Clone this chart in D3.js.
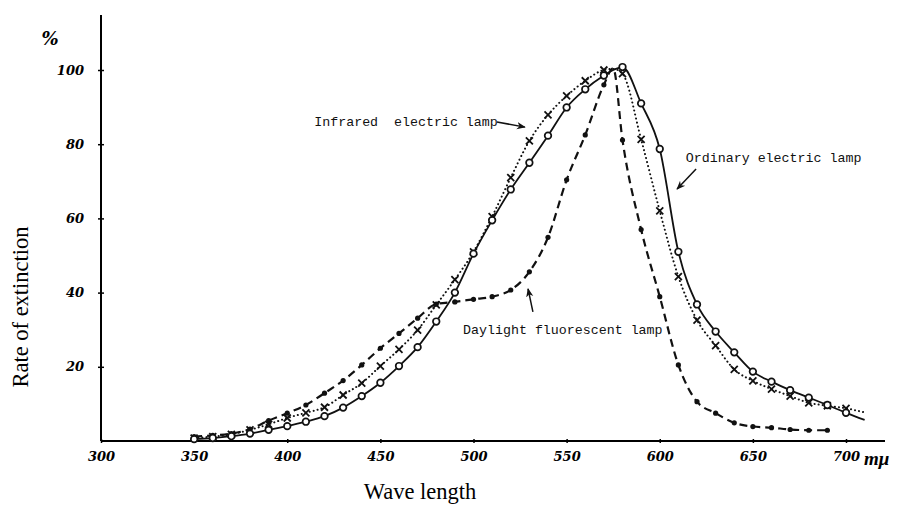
<!DOCTYPE html>
<meta charset="utf-8">
<html lang="en">
<head>
<script src="https://d3js.org/d3.v7.min.js"></script>
<style>
  body { margin: 0; background: #fff; }
  .tick text { font-family: "DejaVu Serif", serif; font-weight: bold; font-style: italic; }
  .note { font-family: "Liberation Mono", monospace; font-size: 13.3px; fill: #111; }
</style>
</head>
<body>
<div id="chart"></div>
<script>
// wavelengths (m\u03bc)
var waveLength = [350,360,370,380,390,400,410,420,430,440,450,460,470,480,490,500,510,520,530,540,550,560,570,575,580,590,600,610,620,630,640,650,660,670,680,690,700,710];
// ordinary electric lamp (solid, open circles)
var ordinary = [0.5,0.8,1.3,2.0,3.0,4.0,5.2,6.7,9.0,12.1,15.7,20.2,25.3,32.2,40.0,50.5,59.5,67.8,75.0,82.3,89.9,94.8,98.5,100,100.8,91.0,78.7,51,36.8,29.5,23.9,18.7,16.0,13.7,11.7,9.7,7.6,5.7];
// infrared electric lamp (dotted, crosses)
var infrared = [0.8,1.2,1.8,3.0,4.5,6.2,7.6,9.1,12.4,15.6,20.2,24.7,29.9,36.7,43.5,51,60.5,71.0,80.9,87.9,93.0,97.1,100,100.3,99,81.3,62.0,44.3,32.6,25.7,19.3,16.2,14.0,12.1,10.3,9.5,8.8,7.7];
// daylight fluorescent lamp (dashed, dots) - ends at 690
var daylightWave = [350,360,370,380,390,400,410,420,430,440,450,460,470,480,490,500,510,520,530,540,550,560,570,575,580,590,600,610,620,630,640,650,660,670,680,690];
var daylight = [1.2,1.5,2.0,3.2,5.5,7.5,9.7,12.9,16.3,20.5,25.0,29.0,33.1,36.9,37.5,38.2,38.9,40.7,45.6,54.9,70.4,82.5,96,100.5,81.1,57,38.9,20.5,10.6,7.5,4.9,3.9,3.6,3.1,2.9,2.9];

var xTicks = [300,350,400,450,500,550,600,650,700];
var yTicks = [20,40,60,80,100];

// annotations in data units: text anchor, arrow from, arrow to
var notes = [
  {text: "Infrared  electric lamp", x: 414.5, y: 85, ax1: 512.6, ay1: 86, ax2: 527.6, ay2: 84.6},
  {text: "Ordinary electric lamp", x: 614, y: 75.2, ax1: 619.5, ay1: 73.3, ax2: 609.3, ay2: 67.9},
  {text: "Daylight fluorescent lamp", x: 494.4, y: 28.8, ax1: 531.9, ay1: 34.8, ax2: 529.3, ay2: 41}
];

var width = 902, height = 505;

var svg = d3.select("#chart").append("svg")
  .attr("width", width)
  .attr("height", height)
  .style("background", "#fff");

var x = d3.scaleLinear().domain([300, 700]).range([101, 846]);
var y = d3.scaleLinear().domain([0, 100]).range([441, 70]);

// arrow head
svg.append("defs").append("marker")
  .attr("id", "arrow")
  .attr("viewBox", "0 0 10 10")
  .attr("refX", 9).attr("refY", 5)
  .attr("markerWidth", 9).attr("markerHeight", 9)
  .attr("markerUnits", "userSpaceOnUse")
  .attr("orient", "auto")
  .append("path")
  .attr("d", "M0,1 L10,5 L0,9 L3,5 Z")
  .attr("fill", "#111");

// axes
var xAxis = svg.append("g")
  .attr("transform", "translate(0," + y(0) + ")")
  .call(d3.axisBottom(x).tickValues(xTicks).tickSize(3).tickPadding(5));
xAxis.select(".domain").attr("d", "M" + x(300) + ",0H885").attr("stroke-width", 2);
xAxis.selectAll(".tick line").attr("y1", -2).attr("y2", 2).attr("stroke-width", 1.5);
xAxis.selectAll(".tick text").attr("font-size", 13).attr("dy", "0.9em");

var yAxis = svg.append("g")
  .attr("transform", "translate(" + x(300) + ",0)")
  .call(d3.axisLeft(y).tickValues(yTicks).tickSize(3).tickPadding(14));
yAxis.select(".domain").attr("d", "M0,15V" + y(0)).attr("stroke-width", 2);
yAxis.selectAll(".tick line").attr("x1", -3).attr("x2", 3).attr("stroke-width", 1.5);
yAxis.selectAll(".tick text").attr("font-size", 13);

svg.append("text")
  .attr("x", 50).attr("y", 45)
  .attr("text-anchor", "middle")
  .attr("font-family", "DejaVu Serif, serif")
  .attr("font-weight", "bold")
  .attr("font-style", "italic")
  .attr("font-size", 18)
  .text("%");

svg.append("text")
  .attr("x", 864).attr("y", 465)
  .attr("font-family", "Liberation Serif, serif")
  .attr("font-weight", "bold")
  .attr("font-style", "italic")
  .attr("font-size", 19)
  .text("m\u03bc");

svg.append("text")
  .attr("transform", "translate(28,307) rotate(-90)")
  .attr("text-anchor", "middle")
  .attr("font-family", "Liberation Serif, serif")
  .attr("font-size", 22.5)
  .text("Rate of extinction");

svg.append("text")
  .attr("x", 420).attr("y", 499)
  .attr("text-anchor", "middle")
  .attr("font-family", "Liberation Serif, serif")
  .attr("font-size", 22.5)
  .text("Wave length");

// curves
var line = d3.line()
  .x(function (d) { return x(d[0]); })
  .y(function (d) { return y(d[1]); })
  .curve(d3.curveMonotoneX);

var ordData = d3.zip(waveLength, ordinary);
var infData = d3.zip(waveLength, infrared);
var dayData = d3.zip(daylightWave, daylight);

function marked(d) { return d[0] % 10 === 0 && d[0] <= 700; }

svg.append("path").datum(dayData)
  .attr("d", line).attr("fill", "none")
  .attr("stroke", "#111").attr("stroke-width", 2.2)
  .attr("stroke-dasharray", "8,5");

svg.append("path").datum(infData)
  .attr("d", line).attr("fill", "none")
  .attr("stroke", "#111").attr("stroke-width", 2)
  .attr("stroke-linecap", "round")
  .attr("stroke-dasharray", "0.1,4");

svg.append("path").datum(ordData)
  .attr("d", line).attr("fill", "none")
  .attr("stroke", "#111").attr("stroke-width", 1.8);

// markers
svg.append("g").selectAll("circle")
  .data(dayData.filter(marked))
  .enter().append("circle")
  .attr("cx", function (d) { return x(d[0]); })
  .attr("cy", function (d) { return y(d[1]); })
  .attr("r", 2.6)
  .attr("fill", "#111");

svg.append("g").selectAll("path")
  .data(infData.filter(marked))
  .enter().append("path")
  .attr("transform", function (d) { return "translate(" + x(d[0]) + "," + y(d[1]) + ")"; })
  .attr("d", "M-3.5,-3.5L3.5,3.5M-3.5,3.5L3.5,-3.5")
  .attr("stroke", "#111").attr("stroke-width", 1.8);

svg.append("g").selectAll("circle")
  .data(ordData.filter(marked))
  .enter().append("circle")
  .attr("cx", function (d) { return x(d[0]); })
  .attr("cy", function (d) { return y(d[1]); })
  .attr("r", 3.3)
  .attr("fill", "#fff")
  .attr("stroke", "#111").attr("stroke-width", 1.7);

// labels with arrows
var g = svg.append("g");
notes.forEach(function (n) {
  g.append("text").attr("class", "note")
    .attr("x", x(n.x)).attr("y", y(n.y))
    .attr("xml:space", "preserve")
    .style("white-space", "pre")
    .text(n.text);
  g.append("line")
    .attr("x1", x(n.ax1)).attr("y1", y(n.ay1))
    .attr("x2", x(n.ax2)).attr("y2", y(n.ay2))
    .attr("stroke", "#111").attr("stroke-width", 1.5)
    .attr("marker-end", "url(#arrow)");
});
</script>
</body>
</html>
